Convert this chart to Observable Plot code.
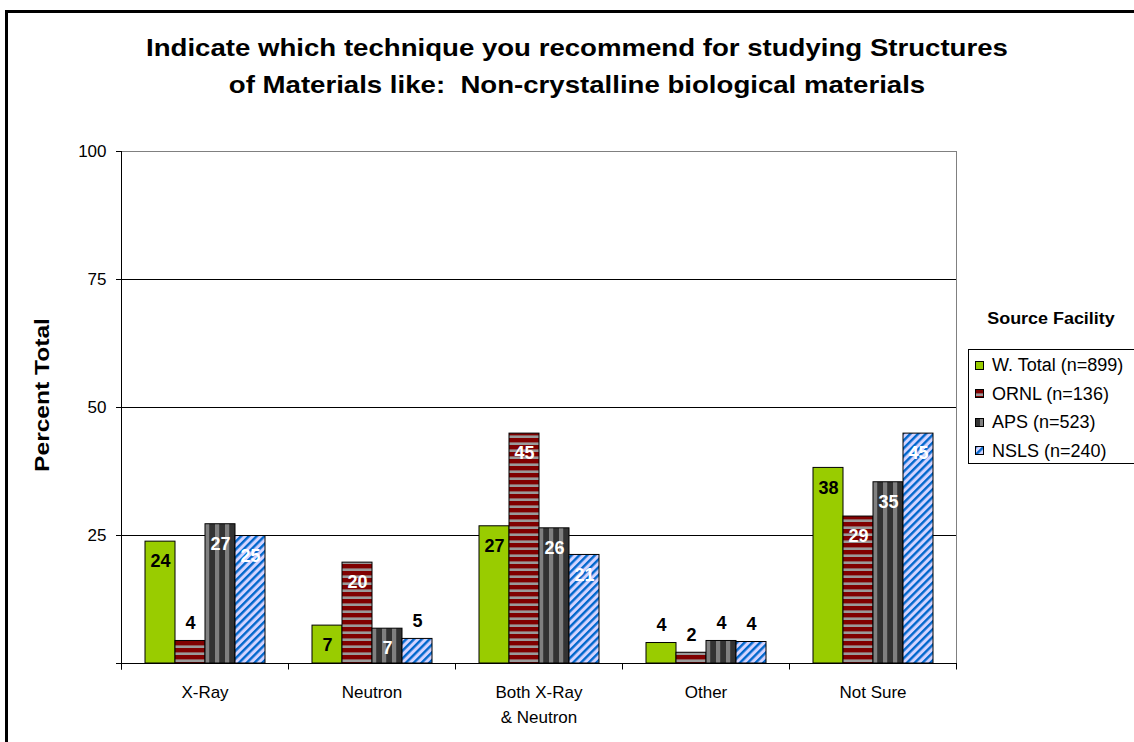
<!DOCTYPE html>
<html><head><meta charset="utf-8">
<script src="https://cdn.jsdelivr.net/npm/d3@7"></script>
<script src="https://cdn.jsdelivr.net/npm/@observablehq/plot@0.6"></script>
<style>
html,body{margin:0;padding:0;background:#fff;}
body{width:1134px;height:742px;overflow:hidden;position:relative;font-family:"Liberation Sans",Arial,sans-serif;color:#000;}
#frame{position:absolute;left:5px;top:10px;width:1200px;height:800px;border:3px solid #000;}
#title{position:absolute;left:0;top:29px;width:1154px;text-align:center;font-weight:bold;font-size:24px;line-height:37px;transform:scaleX(1.15);transform-origin:577px 0;white-space:nowrap;}
#chart{position:absolute;left:0;top:130px;}
#ylabel{position:absolute;left:42px;top:395px;font-weight:bold;font-size:21px;white-space:nowrap;transform:translate(-50%,-50%) rotate(-90deg) scaleX(1.17);}
#legendTitle{position:absolute;left:968px;width:166px;top:308px;line-height:21px;text-align:center;font-weight:bold;font-size:16px;white-space:nowrap;transform:scaleX(1.12);}
#legend{position:absolute;left:968px;top:349px;width:170px;height:113px;border:1px solid #000;background:#fff;}
.lrow{position:absolute;left:6px;height:20px;line-height:20px;font-size:18px;white-space:nowrap;}
.lrow svg{vertical-align:middle;margin-right:8px;position:relative;top:-1px;}
</style></head><body>
<svg width="0" height="0" style="position:absolute">
<defs>
<pattern id="p-ornl" patternUnits="userSpaceOnUse" width="8" height="7"><rect width="8" height="7" fill="#800000"/><rect y="4.4" width="8" height="2.6" fill="#9a9a9a"/></pattern>
<pattern id="p-aps" patternUnits="userSpaceOnUse" width="10" height="8"><rect width="10" height="8" fill="#333333"/><rect x="5" width="4.2" height="8" fill="#808080"/></pattern>
<pattern id="p-nsls" patternUnits="userSpaceOnUse" width="5.5" height="8" patternTransform="rotate(45)"><rect width="5.5" height="8" fill="#D4D4FF"/><rect width="2.4" height="8" fill="#0066CC"/></pattern>
</defs></svg>
<div id="frame"></div>
<div id="title">Indicate which technique you recommend for studying Structures<br>of Materials like:&nbsp; Non-crystalline biological materials</div>
<div id="chart"></div>
<div id="ylabel">Percent Total</div>
<div id="legendTitle">Source Facility</div>
<div id="legend"></div>
<script>
// ---- data ----
const categories = ["X-Ray", "Neutron", "Both X-Ray & Neutron", "Other", "Not Sure"];
const categoryTickLabels = ["X-Ray", "Neutron", "Both X-Ray\n& Neutron", "Other", "Not Sure"];
const seriesNames = ["W. Total (n=899)", "ORNL (n=136)", "APS (n=523)", "NSLS (n=240)"];
const wTotal = [23.8, 7.4, 26.8, 4.0, 38.2];
const ornl   = [4.4, 19.7, 44.9, 2.1, 28.7];
const aps    = [27.2, 6.8, 26.4, 4.4, 35.4];
const nsls   = [24.9, 4.8, 21.2, 4.2, 44.9];
const yTicks = [0, 25, 50, 75, 100];
const gridTicks = [25, 50, 75];
const seriesFills = ["#99CC00", "url(#p-ornl)", "url(#p-aps)", "url(#p-nsls)"];

const seriesValues = [wTotal, ornl, aps, nsls];
const rows = [];
categories.forEach((c, i) => seriesValues.forEach((arr, j) =>
  rows.push({category: c, series: seriesNames[j], value: arr[i]})));

const inside = rows.filter(d => d.value >= 6);
const insideDark = inside.filter(d => d.series === seriesNames[0]);
const insideLight = inside.filter(d => d.series !== seriesNames[0]);
const above = rows.filter(d => d.value < 6);
const label = d => String(Math.round(d.value));

const textOpts = {fx: "category", x: "series", y: "value", text: label, fontSize: 18, fontWeight: "bold"};

const plot = Plot.plot({
  width: 1134, height: 612,
  marginLeft: 121, marginRight: 178, marginTop: 21, marginBottom: 79,
  style: {fontFamily: '"Liberation Sans", Arial, sans-serif', background: "transparent", overflow: "visible", color: "#000"},
  fx: {domain: categories, padding: 0, label: null, axis: null},
  x: {domain: seriesNames, paddingInner: 0, paddingOuter: 0.75, axis: null},
  y: {domain: [0, 100], label: null},
  color: {domain: seriesNames, range: seriesFills},
  marks: [
    Plot.gridY(gridTicks, {stroke: "#000", strokeOpacity: 1}),
    Plot.ruleY([100], {stroke: "#808080"}),
    Plot.barY(rows, {fx: "category", x: "series", y: "value", fill: "series", stroke: "#000", strokeWidth: 1}),
    Plot.ruleY([0], {stroke: "#000"}),
    Plot.text(insideDark, {...textOpts, fill: "#000", dy: 20}),
    Plot.text(insideLight, {...textOpts, fill: "#fff", dy: 20}),
    Plot.text(above, {...textOpts, fill: "#000", dy: -18}),
    Plot.axisY({ticks: yTicks, tickFormat: d => d === 0 ? "" : String(d), tickSize: 5, tickPadding: 10, fontSize: 17, label: null}),
    Plot.axisFx({anchor: "bottom", tickSize: 0, tickPadding: 17, fontSize: 17, lineHeight: 1.45,
      tickFormat: c => categoryTickLabels[categories.indexOf(c)], label: null})
  ]
});
document.getElementById("chart").appendChild(plot);

// axis frame lines and category boundary ticks, from the plot's own scales
const fxs = plot.scale("fx"), ys = plot.scale("y");
const y0 = ys.apply(0), y100 = ys.apply(100);
const edges = categories.map(c => fxs.apply(c));
edges.push(edges[edges.length - 1] + fxs.bandwidth);
const svg = d3.select(plot);
const g = svg.append("g").attr("fill", "none");
g.append("line").attr("x1", edges[edges.length-1] + 0.5).attr("x2", edges[edges.length-1] + 0.5)
  .attr("y1", y100).attr("y2", y0).attr("stroke", "#808080");
edges.forEach(x => g.append("line").attr("x1", x + 0.5).attr("x2", x + 0.5)
  .attr("y1", y0).attr("y2", y0 + 6.5).attr("stroke", "#000"));
g.append("line").attr("x1", edges[0] + 0.5).attr("x2", edges[0] + 0.5)
  .attr("y1", y100).attr("y2", y0 + 6.5).attr("stroke", "#000");

// legend
const legend = document.getElementById("legend");
const rowCenters = [15, 43.5, 72, 100.5];
seriesNames.forEach((name, i) => {
  const row = document.createElement("div");
  row.className = "lrow";
  row.style.top = (rowCenters[i] - 10) + "px";
  row.innerHTML = `<svg width="9" height="9"><rect x="0.5" y="0.5" width="8" height="8" fill="${seriesFills[i]}" stroke="#000"/></svg>`;
  row.appendChild(document.createTextNode(name));
  legend.appendChild(row);
});
</script>
</body></html>
